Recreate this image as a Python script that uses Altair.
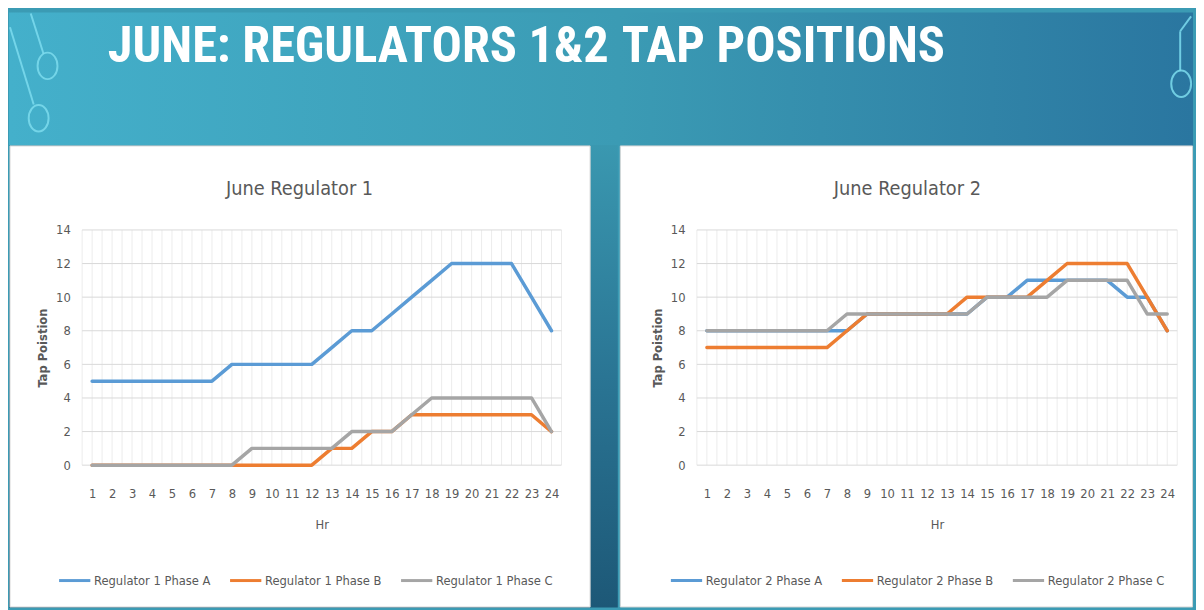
import altair as alt
import pandas as pd

# ---------------- data ----------------
hours = list(range(1, 25))
y_ticks = [0, 2, 4, 6, 8, 10, 12, 14]

reg1_names = ["Regulator 1 Phase A", "Regulator 1 Phase B", "Regulator 1 Phase C"]
reg1_a = [5, 5, 5, 5, 5, 5, 5, 6, 6, 6, 6, 6, 7, 8, 8, 9, 10, 11, 12, 12, 12, 12, 10, 8]
reg1_b = [0, 0, 0, 0, 0, 0, 0, 0, 0, 0, 0, 0, 1, 1, 2, 2, 3, 3, 3, 3, 3, 3, 3, 2]
reg1_c = [0, 0, 0, 0, 0, 0, 0, 0, 1, 1, 1, 1, 1, 2, 2, 2, 3, 4, 4, 4, 4, 4, 4, 2]

reg2_names = ["Regulator 2 Phase A", "Regulator 2 Phase B", "Regulator 2 Phase C"]
reg2_a = [8, 8, 8, 8, 8, 8, 8, 8, 9, 9, 9, 9, 9, 9, 10, 10, 11, 11, 11, 11, 11, 10, 10, 8]
reg2_b = [7, 7, 7, 7, 7, 7, 7, 8, 9, 9, 9, 9, 9, 10, 10, 10, 10, 11, 12, 12, 12, 12, 10, 8]
reg2_c = [8, 8, 8, 8, 8, 8, 8, 9, 9, 9, 9, 9, 9, 9, 10, 10, 10, 10, 11, 11, 11, 11, 9, 9]

series_colors = ["#5b9bd5", "#ed7d31", "#a5a5a5"]

# slide title, set in two pieces (one above each panel)
slide_title_parts = ["JUNE: REGULATORS 1&2", "TAP POSITIONS"]
chart1_title = "June Regulator 1"
chart2_title = "June Regulator 2"
x_title = "Hr"
y_title = "Tap Poistion"

# ---------------- styling ----------------
FONT = "DejaVu Sans Condensed, sans-serif"
HEAD_FONT = "Roboto Condensed, DejaVu Sans Condensed, sans-serif"
TEXT_GRAY = "#595959"
DECOR = "#7ddcee"
PLOT_H = 238
HEAD_TOP = -220   # top of canvas relative to plot top
PANEL_TOP = -86   # top of white panels relative to plot top
BOTTOM = 382
TITLE_BASE = -170
ELLIPSE = "M0,-1A0.75,1 0 1,1 0,1A0.75,1 0 1,1 0,-1Z"
dummy = pd.DataFrame({"k": [0]})
x_grid = sorted([h - 0.5 for h in hours] + hours + [24.5])

C_LEFT, C_MID, C_RIGHT = "#44b0cb", "#3b9bb4", "#2a76a0"
GAP_GRADIENT = alt.LinearGradient(gradient="linear", x1=0, y1=0, x2=0, y2=1, stops=[
    alt.GradientStop(color="#3a98b0", offset=0),
    alt.GradientStop(color="#2a7594", offset=0.5),
    alt.GradientStop(color="#1d5877", offset=1)])

# slide ornaments (thin lines ending in rings), pixel offsets from each plot's corner
left_ornament_lines = [(-52, -219, -39, -178), (-73, -205, -49, -127)]
left_ornament_rings = [(-35, -166), (-44, -113)]
right_ornament_lines = [(500, -216, 489, -201), (489, -201, 489, -161)]
right_ornament_rings = [(490, -148)]


def grad(c0, c1):
    return alt.LinearGradient(gradient="linear", x1=0, y1=0, x2=1, y2=0, stops=[
        alt.GradientStop(color=c0, offset=0), alt.GradientStop(color=c1, offset=1)])


def ornaments(lines, rings):
    out = []
    for (x0, y0, x1, y1) in lines:
        out.append(alt.Chart(dummy).mark_rule(color=DECOR, strokeWidth=2, opacity=0.85).encode(
            x=alt.value(x0), y=alt.value(y0), x2=alt.value(x1), y2=alt.value(y1)))
    for (cx, cy) in rings:
        out.append(alt.Chart(dummy).mark_point(shape=ELLIPSE, size=720, filled=False,
                                               stroke=DECOR, strokeWidth=2, opacity=0.85).encode(
            x=alt.value(cx), y=alt.value(cy)))
    return out


def panel(names, series, title_text, plot_w, title_x, legend_x, bg_x, bg_x2,
          head_colors, head_text, head_x, orn, is_left):
    df = pd.DataFrame({
        "hour": hours * 3,
        "tap": series[0] + series[1] + series[2],
        "series": [n for n in names for _ in hours],
    })
    xs = alt.Scale(domain=[0.5, 24.5], nice=False, zero=False)
    ys = alt.Scale(domain=[0, 14], nice=False, zero=False)
    xaxis = alt.Axis(values=hours, title=x_title, grid=False, domain=False, ticks=False,
                     labelPadding=23, labelOverlap=False, labelAngle=0, labelFontSize=13,
                     labelColor=TEXT_GRAY, labelFont=FONT, titleFont=FONT, titleFontSize=13,
                     titleFontWeight="normal", titleColor=TEXT_GRAY, titleY=60,
                     titleBaseline="middle", zindex=1)
    yaxis = alt.Axis(values=y_ticks, title=y_title, grid=False, domain=False, ticks=False,
                     labelPadding=12, labelFontSize=13, labelColor=TEXT_GRAY, labelFont=FONT,
                     titleFont=FONT, titleFontSize=13, titleFontWeight="bold",
                     titleColor=TEXT_GRAY, titleAngle=270, titleX=-40, titleY=PLOT_H / 2,
                     titleBaseline="middle", titleAlign="center", zindex=1)

    layers = [
        alt.Chart(dummy).mark_rect(fill=grad(*head_colors)).encode(
            x=alt.value(bg_x), x2=alt.value(bg_x2), y=alt.value(HEAD_TOP), y2=alt.value(PANEL_TOP + 1)),
    ]
    layers += ornaments(*orn)
    layers.append(
        alt.Chart(pd.DataFrame({"t": [head_text]})).mark_text(
            font=HEAD_FONT, fontSize=51, fontWeight="bold", color="white",
            align="left", baseline="alphabetic").encode(
            text="t:N", x=alt.value(head_x), y=alt.value(TITLE_BASE)))
    if is_left:
        layers.append(alt.Chart(dummy).mark_rect(fill=GAP_GRADIENT).encode(
            x=alt.value(bg_x), x2=alt.value(bg_x2), y=alt.value(PANEL_TOP), y2=alt.value(BOTTOM)))
        wx, wx2 = bg_x + 1, bg_x2 - 28
    else:
        wx, wx2 = bg_x + 0.5, bg_x2 - 0.5
    layers.append(
        alt.Chart(dummy).mark_rect(fill="white", stroke="#d4d4d4", strokeWidth=1).encode(
            x=alt.value(wx), x2=alt.value(wx2), y=alt.value(PANEL_TOP + 1), y2=alt.value(BOTTOM - 0.5))
    )
    layers.append(
        alt.Chart(pd.DataFrame({"gx": x_grid})).mark_rule(color="#ececec", strokeWidth=1).encode(
            x=alt.X("gx:Q", scale=xs, axis=xaxis))
    )
    layers.append(
        alt.Chart(pd.DataFrame({"gy": y_ticks})).mark_rule(color="#d9d9d9", strokeWidth=1).encode(
            y=alt.Y("gy:Q", scale=ys, axis=yaxis))
    )
    layers.append(
        alt.Chart(df).mark_line(strokeWidth=3.5, strokeJoin="round", strokeCap="round").encode(
            x=alt.X("hour:Q", scale=xs, axis=xaxis),
            y=alt.Y("tap:Q", scale=ys, axis=yaxis),
            color=alt.Color("series:N", scale=alt.Scale(domain=names, range=series_colors),
                            legend=alt.Legend(orient="none", legendX=legend_x, legendY=337,
                                              direction="horizontal", title=None,
                                              symbolType="stroke", symbolSize=1000,
                                              symbolStrokeWidth=3, labelFont=FONT,
                                              labelFontSize=13, labelColor=TEXT_GRAY,
                                              columnPadding=12, labelOffset=2)),
        )
    )
    layers.append(
        alt.Chart(dummy).mark_text(text=title_text, font=FONT, fontSize=20, color=TEXT_GRAY,
                                   align="center", baseline="alphabetic").encode(
            x=alt.value(title_x), y=alt.value(-35))
    )
    return alt.layer(*layers).properties(width=plot_w, height=PLOT_H)


left = panel(reg1_names, [reg1_a, reg1_b, reg1_c], chart1_title, 485,
             title_x=220, legend_x=-25, bg_x=-74, bg_x2=542,
             head_colors=(C_LEFT, C_MID), head_text=slide_title_parts[0], head_x=26,
             orn=(left_ornament_lines, left_ornament_rings), is_left=True)
right = panel(reg2_names, [reg2_a, reg2_b, reg2_c], chart2_title, 486,
              title_x=213, legend_x=-28, bg_x=-78, bg_x2=502,
              head_colors=(C_MID, C_RIGHT), head_text=slide_title_parts[1], head_x=-76,
              orn=(right_ornament_lines, right_ornament_rings), is_left=False)

chart = alt.hconcat(left, right, spacing=0).resolve_scale(
    color="independent", x="independent", y="independent"
).properties(
    padding=0, background=C_MID,
).configure_view(stroke=None).configure(font=FONT)

chart.save("out.html", embed_options={"renderer": "svg", "actions": False})
